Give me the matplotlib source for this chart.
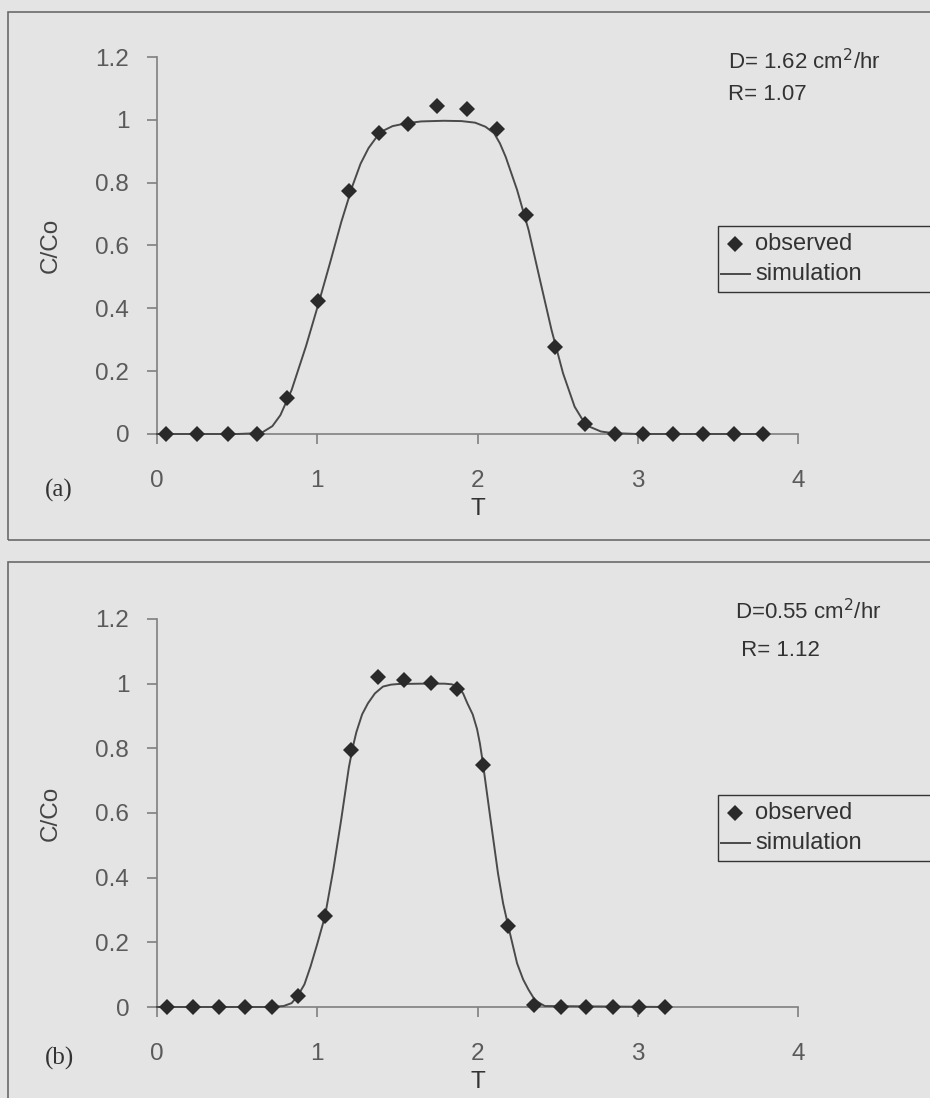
import matplotlib
matplotlib.use("Agg")
import matplotlib.pyplot as plt
from matplotlib.patches import Rectangle
from matplotlib.lines import Line2D

# ---------------- data ----------------
top_obs_x = [0.055, 0.248, 0.44, 0.626, 0.814, 1.005, 1.197, 1.383, 1.569, 1.75, 1.937,
             2.123, 2.30, 2.486, 2.67, 2.856, 3.035, 3.22, 3.41, 3.6, 3.78]
top_obs_y = [0, 0, 0, 0, 0.114, 0.423, 0.773, 0.957, 0.986, 1.044, 1.033,
             0.970, 0.697, 0.278, 0.031, 0, 0, 0, 0, 0, 0]
top_sim_x = [0, 0.5, 0.65, 0.72, 0.77, 0.84, 0.93, 1.005, 1.08, 1.15, 1.22, 1.27, 1.32,
             1.37, 1.41, 1.47, 1.555, 1.65, 1.79, 1.9, 1.985, 2.05, 2.104, 2.14, 2.176,
             2.247, 2.319, 2.39, 2.462, 2.534, 2.606, 2.65, 2.70, 2.77, 2.84, 3.0, 3.8]
top_sim_y = [0, 0, 0.003, 0.025, 0.06, 0.14, 0.28, 0.41, 0.545, 0.675, 0.79, 0.86, 0.91,
             0.945, 0.965, 0.98, 0.989, 0.995, 0.997, 0.996, 0.991, 0.978, 0.957, 0.925, 0.882,
             0.777, 0.649, 0.49, 0.331, 0.193, 0.087, 0.05, 0.023, 0.008, 0.003, 0, 0]

bot_obs_x = [0.061, 0.225, 0.388, 0.552, 0.715, 0.879, 1.048, 1.211, 1.38, 1.542,
             1.71, 1.872, 2.032, 2.192, 2.355, 2.52, 2.68, 2.845, 3.01, 3.17]
bot_obs_y = [0, 0, 0, 0, 0, 0.034, 0.282, 0.795, 1.022, 1.011,
             1.003, 0.983, 0.75, 0.25, 0.005, 0, 0, 0, 0, 0]
bot_sim_x = [0, 0.70, 0.79, 0.84, 0.879, 0.92, 0.958, 1.00, 1.048, 1.10, 1.149, 1.197,
             1.22, 1.244, 1.28, 1.316, 1.36, 1.41, 1.46, 1.507, 1.65, 1.794, 1.84, 1.877,
             1.91, 1.937, 1.97, 1.997, 2.015, 2.032, 2.08, 2.128, 2.16, 2.192, 2.247, 2.285,
             2.319, 2.36, 2.42, 3.2]
bot_sim_y = [0, 0, 0.003, 0.012, 0.035, 0.07, 0.125, 0.195, 0.28, 0.424, 0.578, 0.74,
             0.80, 0.85, 0.905, 0.939, 0.97, 0.991, 0.997, 0.999, 1.0, 1.0, 0.998, 0.991,
             0.97, 0.939, 0.905, 0.86, 0.815, 0.76, 0.585, 0.413, 0.32, 0.25, 0.135, 0.085,
             0.053, 0.02, 0.003, 0]

x_ticks = [0, 1, 2, 3, 4]
y_ticks = [0, 0.2, 0.4, 0.6, 0.8, 1.0, 1.2]
y_tick_labels = ["0", "0.2", "0.4", "0.6", "0.8", "1", "1.2"]
panel_a_params = ["D= 1.62 cm$^2$/hr", "R= 1.07"]
panel_b_params = ["D=0.55 cm$^2$/hr", " R= 1.12"]
legend_labels = ["observed", "simulation"]

# ---------------- style ----------------
W, H = 930, 1098
BG = "#e4e4e4"
AX = "#808080"
TXT = "#5a5a5a"
DARK = "#2a2a2a"
plt.rcParams["font.family"] = ["Liberation Sans", "DejaVu Sans"]

fig = plt.figure(figsize=(W / 100, H / 100), dpi=100, facecolor=BG)


def fx(px):
    return px / W


def fy(py):
    return 1 - py / H


# panel frames
for (x0, y0, x1, y1) in [(8, 12, 940, 540), (8, 562, 940, 1110)]:
    fig.patches.append(Rectangle((fx(x0), fy(y1)), fx(x1 - x0), (y1 - y0) / H,
                                 transform=fig.transFigure, fill=False,
                                 edgecolor="#6a6a6a", lw=1.2, zorder=0))


def make_panel(y_zero_px, y_top_px, ox, oy, sx, sy, params, tag, leg_top):
    ax = fig.add_axes([fx(157), fy(y_zero_px), fx(798 - 157), (y_zero_px - y_top_px) / H])
    ax.set_facecolor("none")
    ax.set_xlim(0, 4)
    ax.set_ylim(0, 1.2)
    for s in ["top", "right"]:
        ax.spines[s].set_visible(False)
    for s in ["left", "bottom"]:
        ax.spines[s].set_color(AX)
        ax.spines[s].set_linewidth(1.2)
    ax.set_xticks(x_ticks)
    ax.set_yticks(y_ticks)
    ax.set_yticklabels(y_tick_labels)
    ax.tick_params(direction="out", length=7, width=1.2, color=AX,
                   labelsize=17.5, labelcolor=TXT)
    ax.tick_params(axis="x", pad=19)
    ax.tick_params(axis="y", pad=13)
    ax.plot(sx, sy, color="#4a4a4a", lw=1.4, zorder=3, clip_on=False)
    ax.plot(ox, oy, linestyle="none", marker="D", ms=8, color=DARK, mew=0,
            zorder=4, clip_on=False)
    ax.set_xlabel("T", fontsize=17.5, color="#333333", labelpad=4)
    ax.set_ylabel("C/Co", fontsize=17.5, color="#444444", labelpad=24)
    # parameters text
    fig.text(fx(params[0][0]), fy(params[0][1]), params[0][2], fontsize=16,
             color="#333333", va="center", ha="left")
    fig.text(fx(params[1][0]), fy(params[1][1]), params[1][2], fontsize=16,
             color="#333333", va="center", ha="left")
    fig.text(fx(tag[0]), fy(tag[1]), tag[2], fontsize=18, color="#333333",
             family=["Liberation Serif", "DejaVu Serif"], va="center", ha="left")
    # legend box (runs off the right edge, like the scan)
    fig.patches.append(Rectangle((fx(718), fy(leg_top + 66)), fx(240), 66 / H,
                                 transform=fig.transFigure, facecolor=BG,
                                 edgecolor="#333333", lw=1.0, zorder=5))
    fig.lines.append(Line2D([fx(735)], [fy(leg_top + 18)], transform=fig.transFigure,
                            linestyle="none", marker="D", ms=8, color=DARK, mew=0,
                            zorder=6))
    fig.lines.append(Line2D([fx(721), fx(750)], [fy(leg_top + 48)] * 2,
                            transform=fig.transFigure, color="#4a4a4a", lw=1.4,
                            zorder=6))
    fig.text(fx(755), fy(leg_top + 18), legend_labels[0], fontsize=17, color="#333333",
             va="center", ha="left", zorder=7)
    fig.text(fx(755), fy(leg_top + 48), legend_labels[1], fontsize=17, color="#333333",
             va="center", ha="left", zorder=7)
    return ax


make_panel(434, 57, top_obs_x, top_obs_y, top_sim_x, top_sim_y,
           [(728, 62, panel_a_params[0]), (728, 95, panel_a_params[1])],
           (45, 490, "(a)"), 226)
make_panel(1007, 619, bot_obs_x, bot_obs_y, bot_sim_x, bot_sim_y,
           [(735, 612, panel_b_params[0]), (735, 650, panel_b_params[1])],
           (45, 1058, "(b)"), 795)

fig.savefig("out.png", dpi=100, facecolor=BG)
